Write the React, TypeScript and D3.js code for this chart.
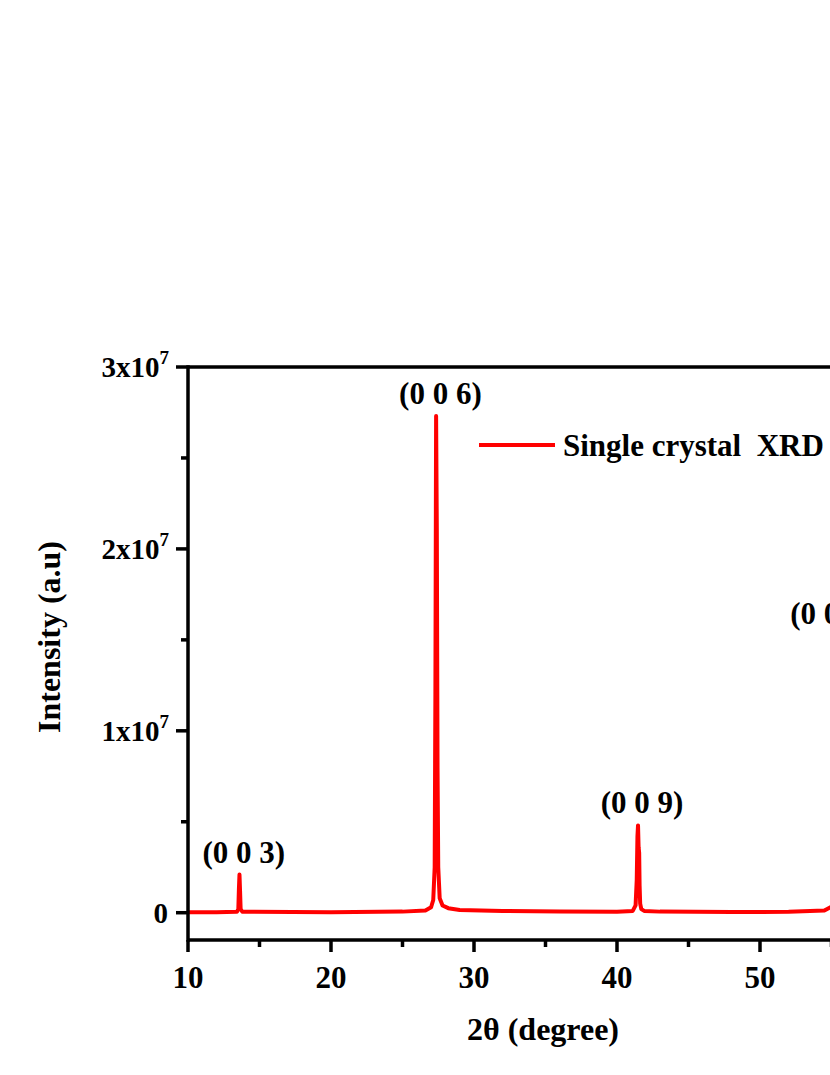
import React from "react";
import * as d3 from "d3";

// 2θ (degree) and intensity
const twoTheta = [
  10, 12, 13.42, 13.52, 13.56, 13.6, 13.64, 13.68, 13.8, 20, 25, 26.6, 27.0, 27.15, 27.25,
  27.3, 27.35, 27.4, 27.45, 27.5, 27.6, 27.8, 28.2, 29, 32, 36, 40, 41.1, 41.3, 41.38, 41.43,
  41.47, 41.51, 41.55, 41.58, 41.62, 41.7, 41.9, 43, 48, 52, 54.5, 55.4, 55.7, 55.85, 55.95,
  56.02, 56.1, 56.2, 56.4, 57, 60, 65, 68, 69.5, 69.9, 70.05, 70.15, 70.3, 70.7, 72, 76, 80,
];
const intensity = [
  0.02e6, 0.03e6, 0.05e6, 0.2e6, 1.3e6, 2.1e6, 1.2e6, 0.2e6, 0.05e6, 0.03e6, 0.06e6, 0.12e6,
  0.3e6, 0.7e6, 2.5e6, 12e6, 27.3e6, 21e6, 8e6, 2.5e6, 0.8e6, 0.4e6, 0.25e6, 0.15e6, 0.1e6,
  0.06e6, 0.05e6, 0.1e6, 0.4e6, 1.8e6, 4.2e6, 4.8e6, 3.6e6, 3.3e6, 1.5e6, 0.5e6, 0.2e6, 0.1e6,
  0.06e6, 0.04e6, 0.05e6, 0.12e6, 0.5e6, 2.5e6, 9e6, 14.5e6, 12e6, 5e6, 1.5e6, 0.4e6, 0.12e6,
  0.06e6, 0.05e6, 0.1e6, 0.4e6, 2e6, 5e6, 3e6, 0.8e6, 0.15e6, 0.06e6, 0.04e6, 0.03e6,
];

// peak labels: where they sit (2θ, intensity)
const peakLabels = ["(0 0 3)", "(0 0 6)", "(0 0 9)", "(0 0 12)", "(0 0 15)"];
const labelPos = [13.9, 27.65, 41.75, 55.55, 70.3];
const labelTop = [2.1e6, 27.3e6, 4.8e6, 15.2e6, 5e6];

const xTicks = [10, 20, 30, 40, 50, 60, 70, 80];
const xMinor = [15, 25, 35, 45, 55, 65, 75];
const yTicks = [0, 1e7, 2e7, 3e7];
const yTickMant = ["0", "1", "2", "3"];
const yMinor = [0.5e7, 1.5e7, 2.5e7];

const FONT = "'Liberation Serif', 'Times New Roman', serif";

export default function App() {
  const W = 830, H = 1075;
  const x = d3.scaleLinear().domain([10, 80]).range([188, 1189]);
  const y = d3.scaleLinear().domain([-1.5e6, 3e7]).range([940, 367]);

  const pts = twoTheta.map((t, i) => [t, intensity[i]] as [number, number]);
  const line = d3.line<[number, number]>().x((d) => x(d[0])).y((d) => y(d[1]));

  const x0 = x(10), x1 = x(80), yb = y(-1.5e6), yt = y(3e7);

  return (
    <div style={{ position: "absolute", left: 0, top: 0 }}>
      <svg width={W} height={H} style={{ display: "block", fontFamily: FONT, fontWeight: "bold" }}>
        <rect width={W} height={H} fill="#fff" />
        <path d={line(pts) || ""} fill="none" stroke="#ff0000" strokeWidth={4} strokeLinejoin="round" />

        {/* frame */}
        <line x1={x0} x2={x1} y1={yt} y2={yt} stroke="#000" strokeWidth={3.5} />
        <line x1={x0} x2={x1} y1={yb} y2={yb} stroke="#000" strokeWidth={3.5} />
        <line x1={x0} x2={x0} y1={yt - 1.7} y2={yb + 1.7} stroke="#000" strokeWidth={3.5} />

        {/* x ticks */}
        {xTicks.map((t) => (
          <g key={"x" + t}>
            <line x1={x(t)} x2={x(t)} y1={yb} y2={yb + 12} stroke="#000" strokeWidth={3.5} />
            <text x={x(t)} y={988} textAnchor="middle" fontSize={31}>{t}</text>
          </g>
        ))}
        {xMinor.map((t) => (
          <line key={"xm" + t} x1={x(t)} x2={x(t)} y1={yb} y2={yb + 7} stroke="#000" strokeWidth={3.5} />
        ))}

        {/* y ticks */}
        {yTicks.map((t, i) => (
          <g key={"y" + t}>
            <line x1={x0 - 12} x2={x0} y1={y(t)} y2={y(t)} stroke="#000" strokeWidth={3.5} />
            {t === 0 ? (
              <text x={168} y={y(t) + 10} textAnchor="end" fontSize={29}>0</text>
            ) : (
              <text x={169} y={y(t) + 10} textAnchor="end" fontSize={29}>
                {yTickMant[i]}x10<tspan fontSize={19} dy={-13}>7</tspan>
              </text>
            )}
          </g>
        ))}
        {yMinor.map((t) => (
          <line key={"ym" + t} x1={x0 - 7} x2={x0} y1={y(t)} y2={y(t)} stroke="#000" strokeWidth={3.5} />
        ))}

        {/* peak labels */}
        {peakLabels.map((l, i) => (
          <text key={l} x={x(labelPos[i])} y={y(labelTop[i]) - 12} textAnchor="middle" fontSize={31}
            style={{ whiteSpace: "pre" }}>{l}</text>
        ))}

        {/* legend */}
        <line x1={479} x2={555} y1={445} y2={445} stroke="#ff0000" strokeWidth={4} />
        <text x={563} y={456} fontSize={31} style={{ whiteSpace: "pre" }}>Single crystal  XRD</text>

        {/* axis titles */}
        <text x={543} y={1040} textAnchor="middle" fontSize={32}>2θ (degree)</text>
        <text transform={`translate(60, 637) rotate(-90)`} textAnchor="middle" fontSize={32}>Intensity (a.u)</text>
      </svg>
    </div>
  );
}
